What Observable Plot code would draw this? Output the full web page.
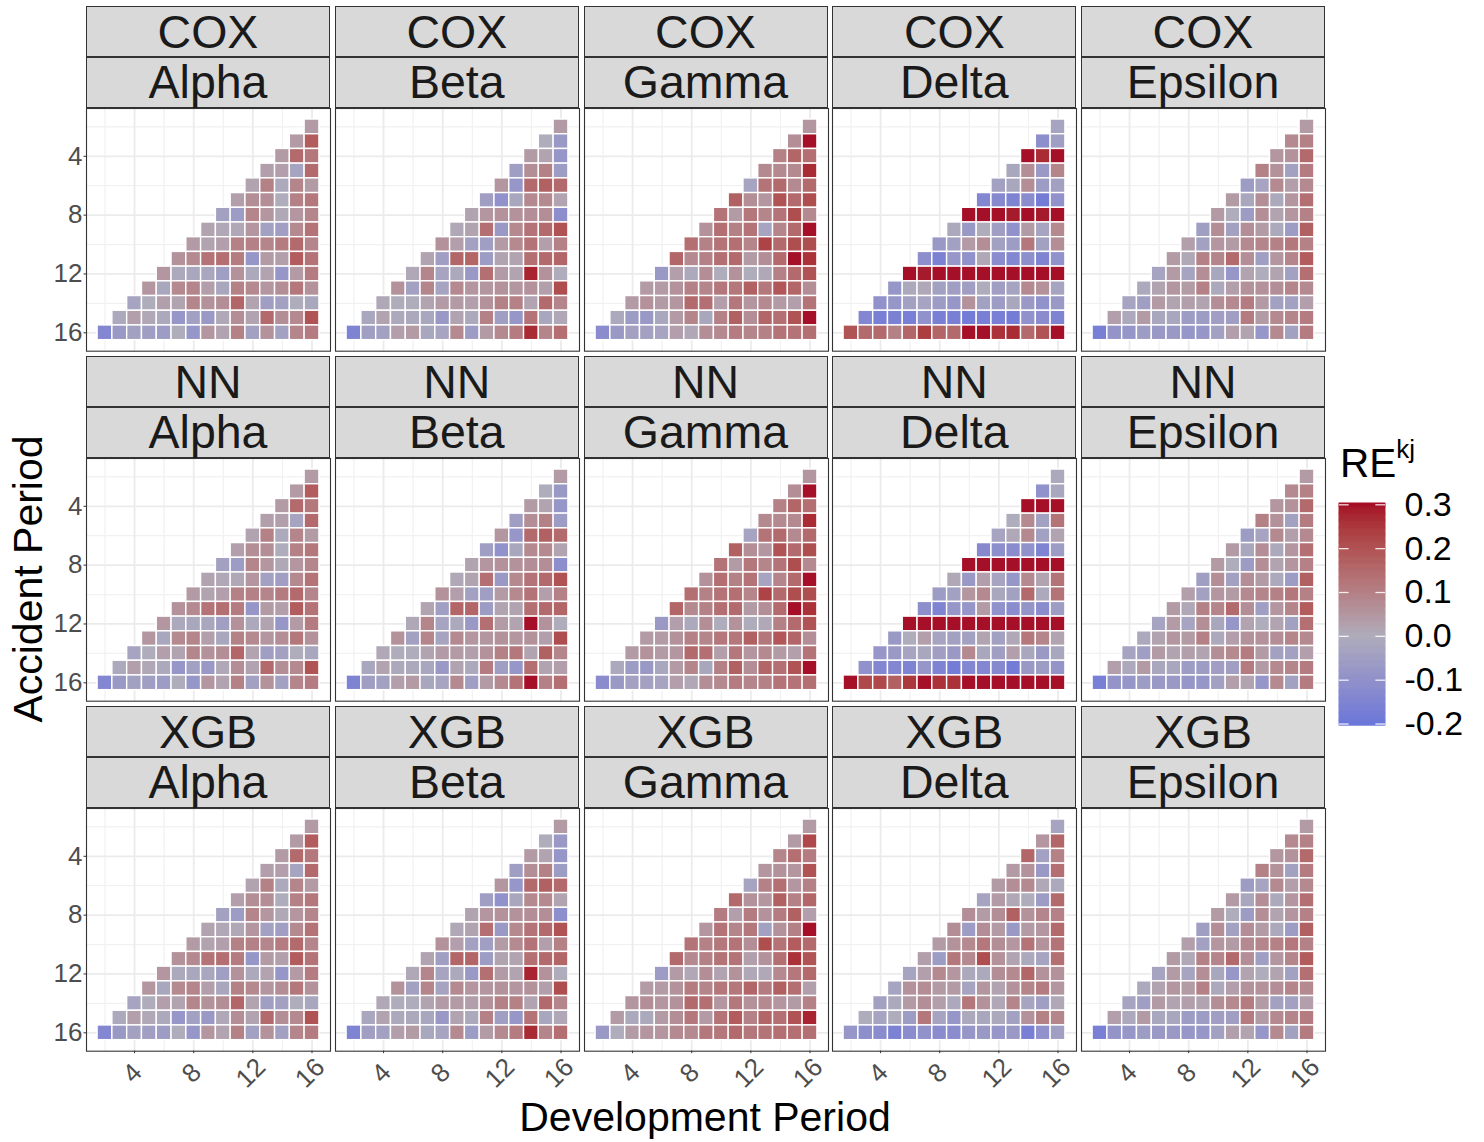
<!DOCTYPE html>
<html><head><meta charset="utf-8">
<script src="https://cdn.jsdelivr.net/npm/d3@7"></script>
<script src="https://cdn.jsdelivr.net/npm/@observablehq/plot@0.6"></script>
<style>
body{margin:0;background:#fff;}
#root{position:relative;width:1484px;height:1142px;background:#fff;font-family:"Liberation Sans",Arial,sans-serif;overflow:hidden}
.strip{position:absolute;background:#d9d9d9;border:1.1px solid #333;box-sizing:border-box;display:flex;align-items:center;justify-content:center;font-size:46.5px;color:#1a1a1a;line-height:1}
.panel{position:absolute}
.title{position:absolute;font-size:41px;color:#000;line-height:1;white-space:nowrap;transform:translate(-50%,-50%)}
</style></head>
<body><div id="root"></div>
<script>
// ---------------- data ----------------
const models = ["COX", "NN", "XGB"];
const scenarios = ["Alpha", "Beta", "Gamma", "Delta", "Epsilon"];
const accidentPeriods = [2, 3, 4, 5, 6, 7, 8, 9, 10, 11, 12, 13, 14, 15, 16];
const axisTicks = [4, 8, 12, 16];
const minorTicks = [2, 6, 10, 14];
const legendBreaks = [-0.2, -0.1, 0.0, 0.1, 0.2, 0.3];
// each row = accident period 2..16; values for development periods (18 - acc) .. 16
const coxAlpha = [
  [0.04],
  [0.04, 0.18],
  [0.04, 0.15, 0.12],
  [0.03, 0.03, -0.03, 0.15],
  [0.02, 0.10, -0.01, 0.09, 0.04],
  [0.03, 0.07, 0.07, 0.00, 0.10, 0.12],
  [-0.04, -0.06, 0.09, 0.05, 0.01, 0.05, 0.09],
  [0.02, 0.01, 0.01, 0.05, -0.04, -0.05, 0.08, 0.13],
  [0.04, 0.02, 0.03, 0.10, 0.10, 0.09, 0.11, 0.15, 0.09],
  [0.06, 0.08, 0.13, 0.14, 0.11, -0.08, 0.04, 0.03, 0.18, 0.13],
  [0.05, -0.01, -0.02, -0.02, -0.05, 0.06, -0.01, 0.02, -0.08, 0.04, 0.11],
  [0.05, -0.02, 0.08, 0.09, 0.03, -0.02, 0.10, 0.08, 0.05, 0.07, 0.12, 0.06],
  [-0.03, 0.00, 0.03, 0.02, 0.09, 0.06, 0.07, 0.16, 0.02, -0.05, -0.04, 0.00, -0.02],
  [-0.01, 0.03, 0.01, -0.01, -0.08, -0.04, -0.07, 0.01, 0.07, 0.02, 0.15, 0.07, 0.08, 0.20],
  [-0.14, -0.07, -0.04, -0.05, -0.06, 0.00, -0.08, 0.05, 0.02, 0.10, -0.04, 0.06, -0.04, 0.09, 0.11]
];
const coxBeta = [
  [0.04],
  [0.00, -0.07],
  [0.04, 0.02, -0.08],
  [-0.05, 0.07, 0.10, -0.06],
  [0.05, -0.08, 0.15, 0.17, 0.15],
  [-0.05, -0.10, -0.02, 0.08, 0.08, 0.02],
  [0.02, 0.05, 0.06, 0.06, 0.07, 0.07, -0.11],
  [0.01, 0.02, 0.14, -0.07, 0.08, 0.13, 0.15, 0.20],
  [0.06, 0.03, -0.04, -0.05, 0.04, 0.08, 0.13, 0.03, 0.10],
  [0.02, -0.05, 0.16, 0.16, -0.06, 0.02, 0.02, 0.14, 0.15, 0.16],
  [0.01, 0.09, -0.03, -0.01, -0.07, 0.14, 0.04, 0.02, 0.28, 0.06, 0.00],
  [0.06, -0.04, 0.09, -0.03, 0.08, 0.05, 0.05, 0.06, 0.05, 0.06, 0.03, 0.21],
  [0.01, 0.00, 0.00, 0.02, 0.04, 0.04, 0.03, 0.06, 0.10, 0.10, 0.02, 0.15, 0.09],
  [-0.02, 0.02, -0.01, -0.01, -0.02, -0.07, 0.02, -0.01, 0.10, -0.05, -0.08, 0.13, -0.02, 0.01],
  [-0.15, -0.05, -0.04, 0.03, 0.04, -0.02, -0.03, 0.08, -0.06, 0.04, 0.08, 0.11, 0.27, 0.09, 0.14]
];
const coxGamma = [
  [0.05],
  [0.07, 0.30],
  [0.10, 0.16, 0.14],
  [0.08, 0.08, 0.08, 0.27],
  [-0.03, 0.13, 0.15, 0.08, 0.15],
  [0.17, 0.07, 0.05, 0.20, 0.15, 0.21],
  [0.13, 0.04, 0.12, 0.09, 0.13, 0.21, 0.08],
  [0.06, 0.14, 0.10, 0.13, -0.03, 0.09, 0.15, 0.30],
  [0.14, 0.10, 0.13, 0.14, 0.09, 0.23, 0.15, 0.21, 0.21],
  [0.16, 0.08, 0.10, 0.14, 0.15, 0.04, 0.07, 0.15, 0.30, 0.26],
  [-0.07, 0.03, -0.01, 0.07, 0.00, 0.06, 0.00, 0.01, 0.10, 0.15, 0.20],
  [0.04, 0.04, 0.06, 0.10, 0.09, 0.12, 0.12, 0.17, 0.12, 0.19, 0.16, 0.07],
  [0.04, 0.06, 0.04, 0.05, 0.15, 0.14, 0.03, 0.12, 0.05, 0.08, 0.04, 0.03, 0.13],
  [-0.01, -0.06, -0.07, -0.02, 0.04, 0.09, -0.02, 0.10, 0.17, 0.07, 0.16, 0.14, 0.20, 0.30],
  [-0.12, -0.07, -0.04, -0.04, -0.03, 0.03, 0.01, 0.07, 0.08, 0.11, 0.09, 0.10, 0.13, 0.13, 0.14]
];
const coxDelta = [
  [-0.03],
  [-0.11, -0.05],
  [0.30, 0.27, 0.30],
  [-0.02, 0.07, -0.07, 0.09],
  [-0.04, -0.02, 0.07, -0.06, -0.04],
  [-0.14, -0.13, -0.15, -0.12, -0.18, -0.10],
  [0.30, 0.30, 0.30, 0.29, 0.30, 0.29, 0.30],
  [-0.01, -0.07, 0.00, -0.05, -0.10, 0.04, -0.03, 0.08],
  [-0.07, -0.04, 0.04, 0.07, -0.04, -0.06, 0.12, -0.04, 0.07],
  [-0.11, -0.16, -0.08, -0.10, 0.01, -0.12, -0.14, -0.11, -0.15, -0.10],
  [0.30, 0.29, 0.30, 0.30, 0.30, 0.30, 0.30, 0.30, 0.30, 0.30, 0.30],
  [-0.08, -0.01, 0.01, -0.04, -0.05, -0.05, 0.00, -0.05, -0.03, 0.08, 0.06, -0.03],
  [-0.10, -0.08, -0.04, -0.03, -0.06, -0.08, 0.06, -0.04, -0.06, -0.02, -0.07, -0.10, -0.07],
  [-0.14, -0.17, -0.16, -0.17, -0.10, -0.17, -0.17, -0.18, -0.17, -0.17, -0.18, -0.10, -0.12, -0.15],
  [0.20, 0.15, 0.15, 0.10, 0.16, 0.24, 0.16, 0.15, 0.30, 0.30, 0.26, 0.27, 0.15, 0.20, 0.30]
];
const coxEpsilon = [
  [0.04],
  [0.08, 0.10],
  [0.05, 0.06, 0.15],
  [0.10, 0.06, -0.04, 0.11],
  [-0.06, -0.03, 0.08, 0.03, 0.08],
  [0.04, -0.02, 0.07, -0.01, 0.05, 0.14],
  [0.04, 0.00, -0.06, 0.07, 0.02, 0.05, 0.10],
  [-0.05, 0.07, -0.04, 0.07, 0.04, -0.01, -0.06, 0.17],
  [0.03, -0.04, 0.05, 0.04, 0.08, 0.09, 0.10, 0.12, 0.10],
  [0.04, 0.01, 0.10, 0.09, 0.15, 0.07, -0.05, 0.05, 0.09, 0.18],
  [-0.03, 0.04, -0.03, 0.07, -0.02, -0.08, 0.02, 0.00, 0.02, -0.04, 0.14],
  [-0.01, 0.02, 0.05, 0.04, 0.10, -0.01, 0.03, 0.06, 0.06, 0.07, 0.09, 0.08],
  [-0.03, -0.05, 0.04, 0.02, 0.03, 0.02, 0.07, 0.08, 0.11, 0.04, -0.04, -0.04, 0.03],
  [0.03, -0.01, 0.04, -0.02, -0.02, -0.06, -0.06, -0.05, -0.05, 0.11, 0.04, 0.08, 0.09, 0.11],
  [-0.17, -0.09, -0.08, -0.06, -0.07, -0.07, -0.08, -0.08, -0.04, 0.03, 0.02, -0.08, 0.08, -0.04, 0.11]
];
const nnAlpha = coxAlpha;
const nnBeta = [
  [0.04],
  [0.00, -0.07],
  [0.04, 0.02, -0.08],
  [-0.05, 0.07, 0.10, -0.06],
  [0.05, -0.08, 0.15, 0.17, 0.15],
  [-0.05, -0.10, -0.02, 0.08, 0.08, 0.02],
  [0.02, 0.05, 0.06, 0.06, 0.07, 0.07, -0.11],
  [0.01, 0.02, 0.14, -0.07, 0.08, 0.13, 0.15, 0.20],
  [0.06, 0.03, -0.04, -0.05, 0.04, 0.08, 0.13, 0.03, 0.10],
  [0.02, -0.05, 0.16, 0.16, -0.06, 0.02, 0.02, 0.14, 0.15, 0.16],
  [0.01, 0.09, -0.03, -0.01, -0.07, 0.14, 0.04, 0.02, 0.30, 0.06, 0.00],
  [0.06, -0.04, 0.09, -0.03, 0.08, 0.05, 0.05, 0.06, 0.05, 0.06, 0.03, 0.21],
  [0.01, 0.00, 0.00, 0.02, 0.04, 0.04, 0.03, 0.06, 0.10, 0.12, 0.02, 0.17, 0.09],
  [-0.02, 0.02, -0.01, -0.01, -0.02, -0.07, 0.02, -0.01, 0.11, -0.05, -0.08, 0.14, 0.02, 0.03],
  [-0.15, -0.05, -0.04, 0.03, 0.04, -0.02, -0.03, 0.08, -0.05, 0.04, 0.08, 0.13, 0.30, 0.10, 0.14]
];
const nnGamma = coxGamma;
const nnDelta = [
  [-0.01],
  [-0.10, -0.02],
  [0.30, 0.30, 0.30],
  [0.00, 0.08, -0.04, 0.13],
  [-0.03, 0.01, 0.08, -0.04, 0.02],
  [-0.13, -0.11, -0.12, -0.10, -0.15, -0.06],
  [0.30, 0.30, 0.30, 0.30, 0.30, 0.30, 0.30],
  [0.01, -0.07, 0.03, -0.03, -0.08, 0.08, 0.02, 0.13],
  [-0.06, -0.04, 0.05, 0.08, -0.02, -0.04, 0.15, -0.01, 0.13],
  [-0.11, -0.15, -0.08, -0.08, 0.04, -0.10, -0.12, -0.09, -0.12, -0.06],
  [0.30, 0.30, 0.30, 0.30, 0.30, 0.30, 0.30, 0.30, 0.30, 0.30, 0.30],
  [-0.07, 0.00, 0.03, -0.03, -0.04, -0.04, 0.02, -0.04, 0.01, 0.12, 0.09, 0.02],
  [-0.08, -0.07, -0.03, -0.02, -0.05, -0.07, 0.08, -0.02, -0.05, 0.03, -0.02, -0.07, -0.02],
  [-0.10, -0.14, -0.14, -0.15, -0.08, -0.15, -0.18, -0.14, -0.14, -0.13, -0.18, -0.07, -0.06, -0.09],
  [0.30, 0.22, 0.22, 0.17, 0.25, 0.30, 0.26, 0.26, 0.30, 0.30, 0.30, 0.30, 0.30, 0.30, 0.30]
];
const nnEpsilon = coxEpsilon;
const xgbAlpha = coxAlpha;
const xgbBeta = coxBeta;
const xgbGamma = [
  [0.04],
  [0.04, 0.22],
  [0.09, 0.14, 0.11],
  [0.05, 0.06, 0.05, 0.20],
  [-0.03, 0.10, 0.14, 0.05, 0.10],
  [0.15, 0.06, 0.05, 0.17, 0.10, 0.16],
  [0.11, 0.03, 0.11, 0.06, 0.11, 0.17, 0.03],
  [0.05, 0.13, 0.09, 0.12, -0.04, 0.06, 0.10, 0.30],
  [0.13, 0.10, 0.12, 0.13, 0.07, 0.21, 0.13, 0.18, 0.15],
  [0.15, 0.08, 0.10, 0.13, 0.13, 0.03, 0.06, 0.14, 0.26, 0.20],
  [-0.06, 0.04, 0.01, 0.07, 0.02, 0.06, 0.01, 0.01, 0.08, 0.12, 0.15],
  [0.04, 0.04, 0.06, 0.11, 0.09, 0.12, 0.12, 0.16, 0.11, 0.17, 0.14, 0.03],
  [0.05, 0.07, 0.05, 0.06, 0.15, 0.14, 0.05, 0.12, 0.06, 0.08, 0.05, 0.04, 0.10],
  [0.04, -0.01, -0.01, 0.04, 0.07, 0.12, 0.04, 0.13, 0.18, 0.10, 0.16, 0.14, 0.20, 0.28],
  [-0.07, 0.00, 0.04, 0.05, 0.05, 0.08, 0.08, 0.12, 0.12, 0.15, 0.12, 0.13, 0.14, 0.14, 0.14]
];
const xgbDelta = [
  [-0.03],
  [0.05, 0.16],
  [0.16, -0.04, 0.10],
  [0.04, 0.06, -0.07, 0.14],
  [0.04, 0.07, 0.08, 0.01, -0.01],
  [-0.03, 0.04, 0.01, 0.00, -0.06, 0.15],
  [0.07, 0.04, 0.07, 0.17, 0.06, 0.09, 0.10],
  [0.07, -0.06, 0.07, 0.04, -0.07, 0.04, 0.05, 0.15],
  [0.04, 0.06, 0.08, 0.12, 0.07, 0.05, 0.13, 0.06, 0.13],
  [0.03, -0.06, 0.12, 0.08, 0.21, 0.06, 0.02, -0.01, -0.03, 0.14],
  [-0.03, 0.03, 0.08, 0.05, -0.01, -0.01, 0.07, 0.08, 0.16, 0.06, 0.06],
  [-0.03, 0.06, 0.07, 0.04, 0.04, -0.03, 0.05, 0.02, 0.06, 0.09, 0.11, 0.05],
  [-0.04, -0.01, 0.04, 0.07, 0.03, -0.01, 0.12, 0.06, 0.01, 0.09, -0.03, -0.05, 0.01],
  [0.00, -0.03, 0.00, -0.06, 0.12, -0.03, -0.08, -0.01, -0.02, -0.01, -0.04, 0.06, 0.10, 0.09],
  [-0.08, -0.11, -0.12, -0.16, -0.12, -0.10, -0.12, -0.12, -0.08, -0.07, -0.08, -0.07, -0.17, -0.10, -0.05]
];
const xgbEpsilon = coxEpsilon;

const panelData = {
  COX: {Alpha: coxAlpha, Beta: coxBeta, Gamma: coxGamma, Delta: coxDelta, Epsilon: coxEpsilon},
  NN: {Alpha: nnAlpha, Beta: nnBeta, Gamma: nnGamma, Delta: nnDelta, Epsilon: nnEpsilon},
  XGB: {Alpha: xgbAlpha, Beta: xgbBeta, Gamma: xgbGamma, Delta: xgbDelta, Epsilon: xgbEpsilon}
};

function tidy(rows) {
  return rows.flatMap((vals, r) => {
    const acc = accidentPeriods[r];
    return vals.map((v, k) => ({acc, dev: 18 - acc + k, re: v}));
  });
}

// ---------------- layout ----------------
const root = document.getElementById("root");
const colLeft = [86, 334.8, 583.5, 832.3, 1081];
const panelW = 244;
const rowTop = [6.3, 356.3, 706.3];
const stripH = 50.5;
const panelH = 242.7;
const FONT = '"Liberation Sans", Arial, sans-serif';

const colorScale = {
  type: "linear",
  domain: [-0.2, 0, 0.3],
  range: ["#6b77d9", "#afacbb", "#a50f27"],
  interpolate: "lab",
  clamp: true
};

models.forEach((m, ri) => {
  scenarios.forEach((s, ci) => {
    const left = colLeft[ci], top = rowTop[ri];
    const s1 = document.createElement("div");
    s1.className = "strip";
    Object.assign(s1.style, {left: left + "px", top: top + "px", width: panelW + "px", height: (stripH + 0.5) + "px"});
    s1.textContent = m;
    root.appendChild(s1);
    const s2 = document.createElement("div");
    s2.className = "strip";
    Object.assign(s2.style, {left: left + "px", top: (top + stripH) + "px", width: panelW + "px", height: (stripH + 0.5) + "px"});
    s2.textContent = s;
    root.appendChild(s2);

    const data = tidy(panelData[m][s]);
    const marks = [
      Plot.gridX({ticks: minorTicks, stroke: "#f1f1f1", strokeOpacity: 1, strokeWidth: 1.2}),
      Plot.gridY({ticks: minorTicks, stroke: "#f1f1f1", strokeOpacity: 1, strokeWidth: 1.2}),
      Plot.gridX({ticks: axisTicks, stroke: "#ebebeb", strokeOpacity: 1, strokeWidth: 1.8}),
      Plot.gridY({ticks: axisTicks, stroke: "#ebebeb", strokeOpacity: 1, strokeWidth: 1.8}),
      Plot.rect(data, {
        x1: d => d.dev - 0.5, x2: d => d.dev + 0.5,
        y1: d => d.acc - 0.5, y2: d => d.acc + 0.5,
        fill: "re", stroke: "white", strokeWidth: 1.4
      }),
      Plot.frame({stroke: "#333333", strokeWidth: 1.1})
    ];
    if (ci === 0) {
      marks.push(Plot.axisY({ticks: axisTicks, tickSize: 2.5, tickPadding: 1.5, stroke: "#333333",
        fill: "#4d4d4d", fontSize: 26, fontFamily: FONT}));
    }
    if (ri === 2) {
      marks.push(Plot.axisX({ticks: axisTicks, tickSize: 2.5, tickFormat: () => "", stroke: "#333333"}));
      marks.push(Plot.text(axisTicks, {x: d => d, text: d => String(d), frameAnchor: "bottom",
        dy: 22, dx: -2, rotate: -45, textAnchor: "middle", lineAnchor: "middle",
        fontSize: 26, fill: "#4d4d4d", fontFamily: FONT}));
    }
    const chart = Plot.plot({
      width: panelW, height: panelH,
      marginTop: 0, marginRight: 0, marginBottom: 0, marginLeft: 0,
      style: {overflow: "visible", background: "transparent", fontFamily: FONT},
      x: {domain: [0.75, 17.25], axis: null},
      y: {domain: [0.75, 17.25], reverse: true, axis: null},
      color: colorScale,
      marks
    });
    const wrap = document.createElement("div");
    wrap.className = "panel";
    Object.assign(wrap.style, {left: left + "px", top: (top + 2 * stripH + 0.5) + "px", width: panelW + "px", height: panelH + "px"});
    wrap.appendChild(chart);
    root.appendChild(wrap);
  });
});

// axis titles
const xt = document.createElement("div");
xt.className = "title"; xt.textContent = "Development Period";
Object.assign(xt.style, {left: "705px", top: "1117px"});
root.appendChild(xt);
const yt = document.createElement("div");
yt.className = "title"; yt.textContent = "Accident Period";
Object.assign(yt.style, {left: "28px", top: "579px", transform: "translate(-50%,-50%) rotate(-90deg)"});
root.appendChild(yt);

// legend
const lt = document.createElement("div");
lt.innerHTML = 'RE<sup style="font-size:26px;vertical-align:0;position:relative;top:-19px">kj</sup>';
Object.assign(lt.style, {position: "absolute", left: "1340px", top: "443px", fontSize: "40.5px", lineHeight: "1", color: "#000", whiteSpace: "nowrap"});
root.appendChild(lt);

const step = 0.002;
const ramp = d3.range(-0.204, 0.303, step);
const legend = Plot.plot({
  width: 46, height: 222.3,
  marginTop: 0, marginRight: 0, marginBottom: 0, marginLeft: 0,
  style: {overflow: "visible", background: "transparent", fontFamily: FONT},
  x: {domain: [0, 1], axis: null},
  y: {domain: [-0.204, 0.303], axis: null},
  color: colorScale,
  marks: [
    Plot.rect(ramp, {x1: 0, x2: 1, y1: d => d, y2: d => Math.min(d + step * 1.5, 0.303),
      fill: d => d + step / 2, stroke: d => d + step / 2, strokeWidth: 0.6}),
    Plot.ruleY(legendBreaks, {x1: 0, x2: 0.21, stroke: "white", strokeOpacity: 0.85, strokeWidth: 1.3}),
    Plot.ruleY(legendBreaks, {x1: 0.79, x2: 1, stroke: "white", strokeOpacity: 0.85, strokeWidth: 1.3}),
    Plot.text(legendBreaks, {x: 1, y: d => d, dx: 19, text: d => d.toFixed(1), textAnchor: "start",
      fontSize: 34, fill: "#000", fontFamily: FONT})
  ]
});
const lw = document.createElement("div");
Object.assign(lw.style, {position: "absolute", left: "1339px", top: "502.7px"});
lw.appendChild(legend);
root.appendChild(lw);
</script>
</body></html>
